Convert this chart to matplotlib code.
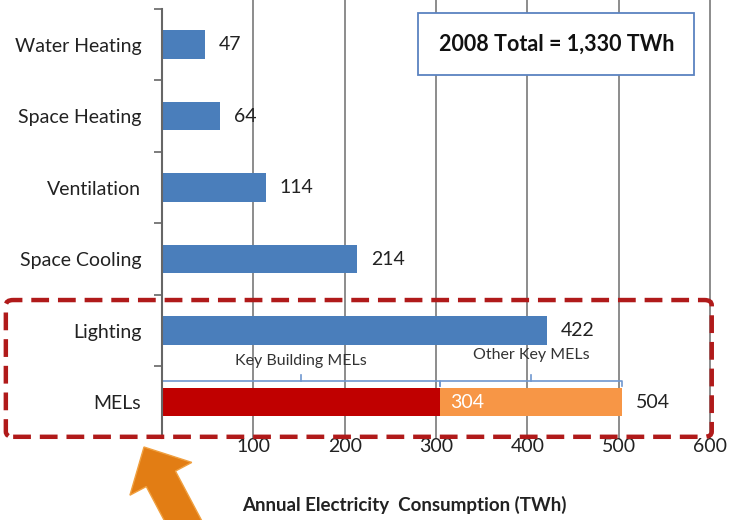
import matplotlib.pyplot as plt
from matplotlib.patches import FancyBboxPatch, FancyArrow

plt.rcParams['font.family'] = ['Lato', 'DejaVu Sans']

# data
categories = ["Water Heating", "Space Heating", "Ventilation", "Space Cooling", "Lighting", "MELs"]
values = [47, 64, 114, 214, 422, 504]
mels_key_building = 304
mels_total = 504
x_ticks = [100, 200, 300, 400, 500, 600]

blue = "#4a7ebb"
red = "#c00000"
orange = "#f79646"

fig = plt.figure(figsize=(7.3, 5.2), dpi=100)
ax = fig.add_axes([0.222, 0.158, 0.7505, 0.825])

ypos = list(range(len(categories)))
bar_h = 0.4

# blue bars (everything except MELs)
for i, (cat, v) in enumerate(zip(categories, values)):
    if cat == "MELs":
        continue
    ax.barh(i, v, height=bar_h, color=blue, zorder=3)
    ax.text(v + 15, i, str(v), va="center", ha="left", fontsize=14, color="#222222")

# MELs stacked bar
m = categories.index("MELs")
ax.barh(m, mels_key_building, height=bar_h, color=red, zorder=3)
ax.barh(m, mels_total - mels_key_building, left=mels_key_building, height=bar_h,
        color=orange, zorder=3)
ax.text(mels_key_building + 12, m, str(mels_key_building), va="center", ha="left",
        fontsize=14, color="white", zorder=4)
ax.text(mels_total + 15, m, str(mels_total), va="center", ha="left",
        fontsize=14, color="#222222")

# braces above MELs bar
brace_col = "#6f97cf"
def brace(x0, x1, y):
    mid = (x0 + x1) / 2
    ax.plot([x0, x0, x1, x1], [y + 0.07, y, y, y + 0.07], color=brace_col, lw=1.2,
            zorder=4, solid_joinstyle="round")
    ax.plot([mid, mid], [y, y - 0.09], color=brace_col, lw=1.2, zorder=4)

brace(0, mels_key_building, m - 0.29)
brace(mels_key_building, mels_total, m - 0.29)
ax.text(mels_key_building / 2, m - 0.57, "Key Building MELs", ha="center", va="center",
        fontsize=11.5, color="#333333")
ax.text((mels_key_building + mels_total) / 2, m - 0.66, "Other Key MELs", ha="center",
        va="center", fontsize=11.5, color="#333333")

ax.set_xlim(0, 600)
ax.set_ylim(len(categories) - 0.5, -0.5)

# gridlines
for xt in x_ticks:
    ax.axvline(xt, ymin=0, ymax=1.02, color="#8c8c8c", lw=1.4, zorder=1, clip_on=False)

ax.set_yticks(ypos)
ax.set_yticklabels(categories, fontsize=14, color="#222222")
ax.tick_params(axis="y", length=0, pad=15)
ax.set_yticks([i + 0.5 for i in ypos[:-1]] + [-0.5], minor=True)
ax.tick_params(axis="y", which="minor", length=6, color="#666666", width=1.2)

ax.set_xticks(x_ticks)
ax.set_xticklabels([str(t) for t in x_ticks], fontsize=14, color="#222222")
ax.tick_params(axis="x", length=0, pad=0)
ax.set_xlabel("Annual Electricity  Consumption (TWh)", fontsize=13.5, fontweight="bold",
              color="#222222")
ax.xaxis.set_label_coords(0.443, -0.135)

for s in ["top", "right", "bottom"]:
    ax.spines[s].set_visible(False)
ax.spines["left"].set_color("#666666")
ax.spines["left"].set_linewidth(1.5)
ax.spines["left"].set_zorder(5)

# total box
ax.text(0.762, 0.915, "2008 Total = 1,330 TWh", transform=fig.transFigure, ha="center",
        va="center", fontsize=15.5, fontweight="bold", color="#111111", zorder=6,
        bbox=dict(boxstyle="square,pad=0.95", fc="white", ec="#5a82c0", lw=1.3))

# red dashed frame
fig.patches.append(FancyBboxPatch((0.008, 0.16), 0.967, 0.263,
                                  boxstyle="round,pad=0,rounding_size=0.01",
                                  transform=fig.transFigure, fill=False, ec="#b01a1a",
                                  lw=3.2, ls=(0, (4, 2)), zorder=10))

# orange arrow (inches from lower-left of figure)
fig.patches.append(FancyArrow(1.88, -0.1, -0.44, 0.83, width=0.33, head_width=0.7,
                              head_length=0.36, transform=fig.dpi_scale_trans,
                              fc="#e27d14", ec="#f0a040", lw=1, length_includes_head=True,
                              zorder=10))

fig.savefig("out.png", dpi=100)
